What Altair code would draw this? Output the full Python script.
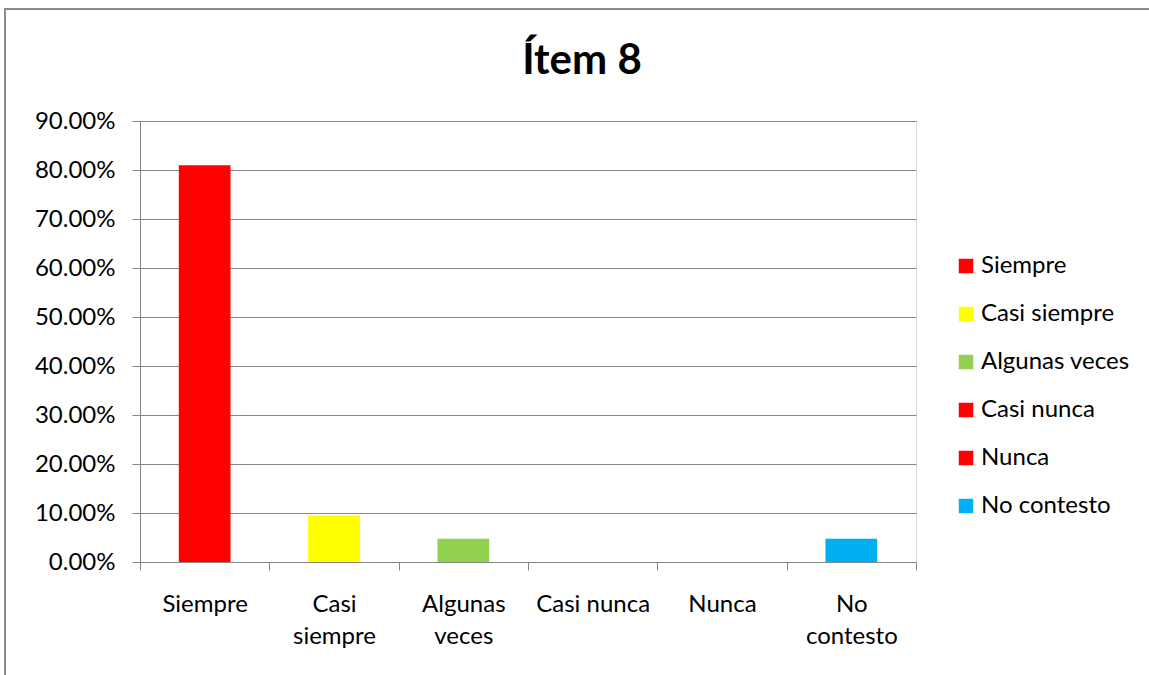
import altair as alt
import pandas as pd

# Survey answers for item 8 (share of respondents)
categories = ["Siempre", "Casi siempre", "Algunas veces", "Casi nunca", "Nunca", "No contesto"]
shares = [0.8095, 0.0952, 0.0476, 0.0, 0.0, 0.0476]
bar_colors = ["#FF0000", "#FFFF00", "#92D050", "#FF0000", "#FF0000", "#00B0F0"]
# Category labels on the x axis, broken into lines
x_label_lines = [["Siempre"], ["Casi", "siempre"], ["Algunas", "veces"],
                 ["Casi nunca"], ["Nunca"], ["No", "contesto"]]
y_tick_values = [0.0, 0.1, 0.2, 0.3, 0.4, 0.5, 0.6, 0.7, 0.8, 0.9]
chart_title = ["Ítem 8"]

df = pd.DataFrame({"categoria": categories, "porcentaje": shares})
title_df = pd.DataFrame({"titulo": chart_title})

FONT = "Lato"
GRID = "#868686"
LABEL_SIZE = 24

PLOT_W, PLOT_H = 776, 441
PAD_L, PAD_T = 140, 121
PAD_R, PAD_B = 1149 - PAD_L - PLOT_W, 675 - PAD_T - PLOT_H


def js_list(items):
    return "[" + ",".join("'" + s + "'" for s in items) + "]"


label_expr = "datum.label"
for cat, lines in reversed(list(zip(categories, x_label_lines))):
    label_expr = f"datum.label == '{cat}' ? {js_list(lines)} : ({label_expr})"

bars = alt.Chart(df).mark_bar(width=alt.RelativeBandSize(0.4)).encode(
    x=alt.X(
        "categoria:N",
        sort=categories,
        scale=alt.Scale(paddingInner=0, paddingOuter=0),
        axis=alt.Axis(
            title=None,
            labelAngle=0,
            labelExpr=label_expr,
            labelFont=FONT,
            labelFontSize=LABEL_SIZE,
            labelColor="#000000",
            labelPadding=22,
            labelLineHeight=32,
            tickBand="extent",
            tickSize=8,
            tickColor=GRID,
            domainColor=GRID,
            grid=False,
        ),
    ),
    y=alt.Y(
        "porcentaje:Q",
        scale=alt.Scale(domain=[0, 0.9], nice=False),
        axis=alt.Axis(
            title=None,
            values=y_tick_values,
            format=".2%",
            labelFont=FONT,
            labelFontSize=LABEL_SIZE,
            labelColor="#000000",
            labelPadding=17,
            tickSize=8,
            tickColor=GRID,
            domainColor=GRID,
            gridColor=GRID,
            gridWidth=1,
        ),
    ),
    color=alt.Color(
        "categoria:N",
        sort=categories,
        scale=alt.Scale(domain=categories, range=bar_colors),
        legend=alt.Legend(
            title=None,
            orient="none",
            legendX=814,
            legendY=133,
            symbolType="square",
            symbolSize=210,
            symbolStrokeWidth=0,
            labelFont=FONT,
            labelFontSize=LABEL_SIZE,
            labelColor="#000000",
            labelOffset=3,
            rowPadding=24,
            labelLimit=300,
        ),
    ),
)

title = alt.Chart(title_df).mark_text(
    font=FONT, fontSize=42, fontWeight="bold", color="#000000",
    align="center", baseline="alphabetic",
).encode(
    text="titulo:N",
    x=alt.value(582 - PAD_L),
    y=alt.value(74 - PAD_T),
)

# Outer chart frame
frame = alt.Chart(title_df).mark_rect(fill=None, stroke="#8C8C8C", strokeWidth=2, clip=False).encode(
    x=alt.value(5 - PAD_L),
    x2=alt.value(1160 - PAD_L),
    y=alt.value(9 - PAD_T),
    y2=alt.value(700 - PAD_T),
)

chart = alt.layer(frame, title, bars).properties(
    width=PLOT_W,
    height=PLOT_H,
    autosize=alt.AutoSizeParams(type="none"),
    padding={"left": PAD_L, "top": PAD_T, "right": PAD_R, "bottom": PAD_B},
).configure_view(stroke=None).configure(background="#FFFFFF")

chart.save("out.html", embed_options={"renderer": "svg", "actions": False})
